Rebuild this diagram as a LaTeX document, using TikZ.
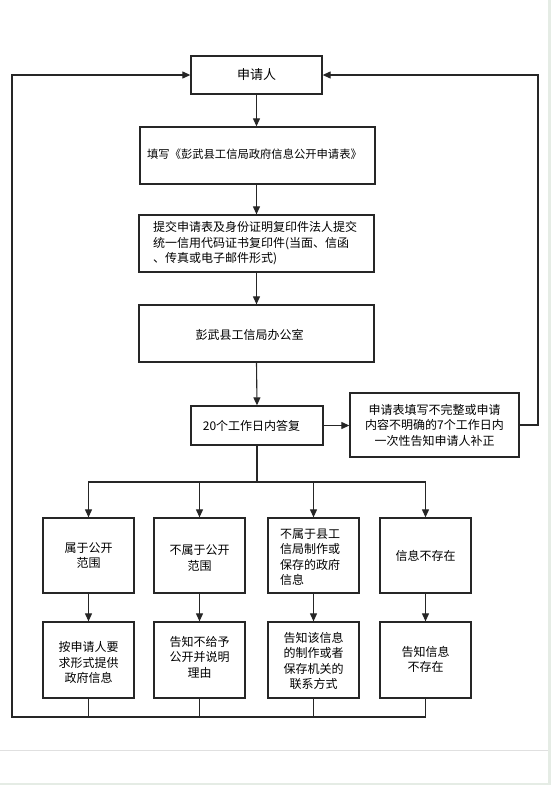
\documentclass[tikz,border=0pt]{standalone}
\usepackage{fontspec}
\setmainfont{Noto Sans CJK SC}
\usetikzlibrary{arrows.meta}
\begin{document}
\begin{tikzpicture}[x=1pt,y=-1pt,
  box/.style={draw=black!85, line width=1.3pt, minimum width=#1, inner sep=0pt},
  txt/.style={font=\fontsize{12}{15.5}\selectfont, align=center, inner sep=0pt},
  ln/.style={draw=black!85, line width=1.1pt},
  arr/.style={ln, -{Triangle[length=8pt,width=7pt]}}]
\useasboundingbox (0,0) rectangle (551,785);
\fill[white] (0,0) rectangle (551,785);
% screenshot frame artefacts
\fill[green!25!black!10!white] (548,0) rectangle (551,785);
\fill[green!25!black!10!white] (0,783) rectangle (551,785);
\draw[black!12, line width=0.8pt] (0,750) -- (548,750);

% main column
\node[box=131pt, minimum height=38pt, font=\fontsize{13}{15}\selectfont] (app) at (256.5,75) {申请人};
\node[box=235pt, minimum height=57pt] (fill) at (257.5,155.5) {};
\node[txt, font=\fontsize{11.3}{14}\selectfont] (filltxt) at (254.5,154) {填写《彭武县工信局政府信息公开申请表》};
\node[box=235pt, minimum height=57pt] (sub) at (256.5,243.5) {};
\node[txt, align=left] (subtxt) at (255,243.5) {提交申请表及身份证明复印件法人提交\\统一信用代码证书复印件(当面、信函\\、传真或电子邮件形式)};
\node[box=235pt, minimum height=57pt] (off) at (256.5,333.5) {};
\node[txt] (offtxt) at (249.5,335) {彭武县工信局办公室};
\node[box=132pt, minimum height=39pt] (ans) at (257,425.5) {};
\node[txt] (anstxt) at (251.5,425.5) {20个工作日内答复};
\node[box=169pt, minimum height=64pt, txt, draw=black!85, line width=1.3pt] (sup) at (434.5,425) {申请表填写不完整或申请\\内容不明确的7个工作日内\\一次性告知申请人补正};

% branch boxes
\node[box=91pt, minimum height=75pt, txt, draw=black!85, line width=1.3pt] (b1) at (88.5,555.5) {属于公开\\范围};
\node[box=91pt, minimum height=75pt] (b2) at (199.5,555.5) {};
\node[txt] (b2txt) at (199.5,558) {不属于公开\\范围};
\node[box=91pt, minimum height=75pt] (b3) at (313.5,555.5) {};
\node[txt, align=left] (b3txt) at (310,557) {不属于县工\\信局制作或\\保存的政府\\信息};
\node[box=91pt, minimum height=75pt, txt, draw=black!85, line width=1.3pt] (b4) at (425.5,555.5) {信息不存在};

\node[box=91pt, minimum height=76pt] (c1) at (88.5,660) {};
\node[txt] (c1txt) at (88.5,662.5) {按申请人要\\求形式提供\\政府信息};
\node[box=91pt, minimum height=76pt] (c2) at (199.5,660) {};
\node[txt] (c2txt) at (199.5,657) {告知不给予\\公开并说明\\理由};
\node[box=91pt, minimum height=76pt] (c3) at (313.5,660) {};
\node[txt] (c3txt) at (313.5,661) {告知该信息\\的制作或者\\保存机关的\\联系方式};
\node[box=91pt, minimum height=76pt] (c4) at (425.5,660) {};
\node[txt] (c4txt) at (425.5,659.5) {告知信息\\不存在};

% connectors
\draw[arr] (app.south) -- (app.south |- fill.north);
\draw[arr] (fill.south -| sub.north) -- (sub.north);
\draw[arr] (sub) -- (off);
\draw[arr] (off.south) -- (ans.north);
\draw[arr] (ans.east) -- (ans.east -| sup.west);
\coordinate (rt) at (538,425);
\draw[arr] (sup.east) -- (rt) |- (app.east);

\coordinate (bj) at (257,482);
\draw[ln] (ans.south) -- (bj);
\draw[arr] (bj) -| (b1.north);
\draw[arr] (bj) -| (b2.north);
\draw[arr] (bj) -| (b3.north);
\draw[arr] (bj) -| (b4.north);

\draw[arr] (b1) -- (c1);
\draw[arr] (b2) -- (c2);
\draw[arr] (b3) -- (c3);
\draw[arr] (b4) -- (c4);

\coordinate (bl) at (12,717);
\draw[arr] (c4.south) |- (bl) |- (app.west);
\draw[ln] (c1.south) -- (c1.south |- bl);
\draw[ln] (c2.south) -- (c2.south |- bl);
\draw[ln] (c3.south) -- (c3.south |- bl);
\end{tikzpicture}
\end{document}
